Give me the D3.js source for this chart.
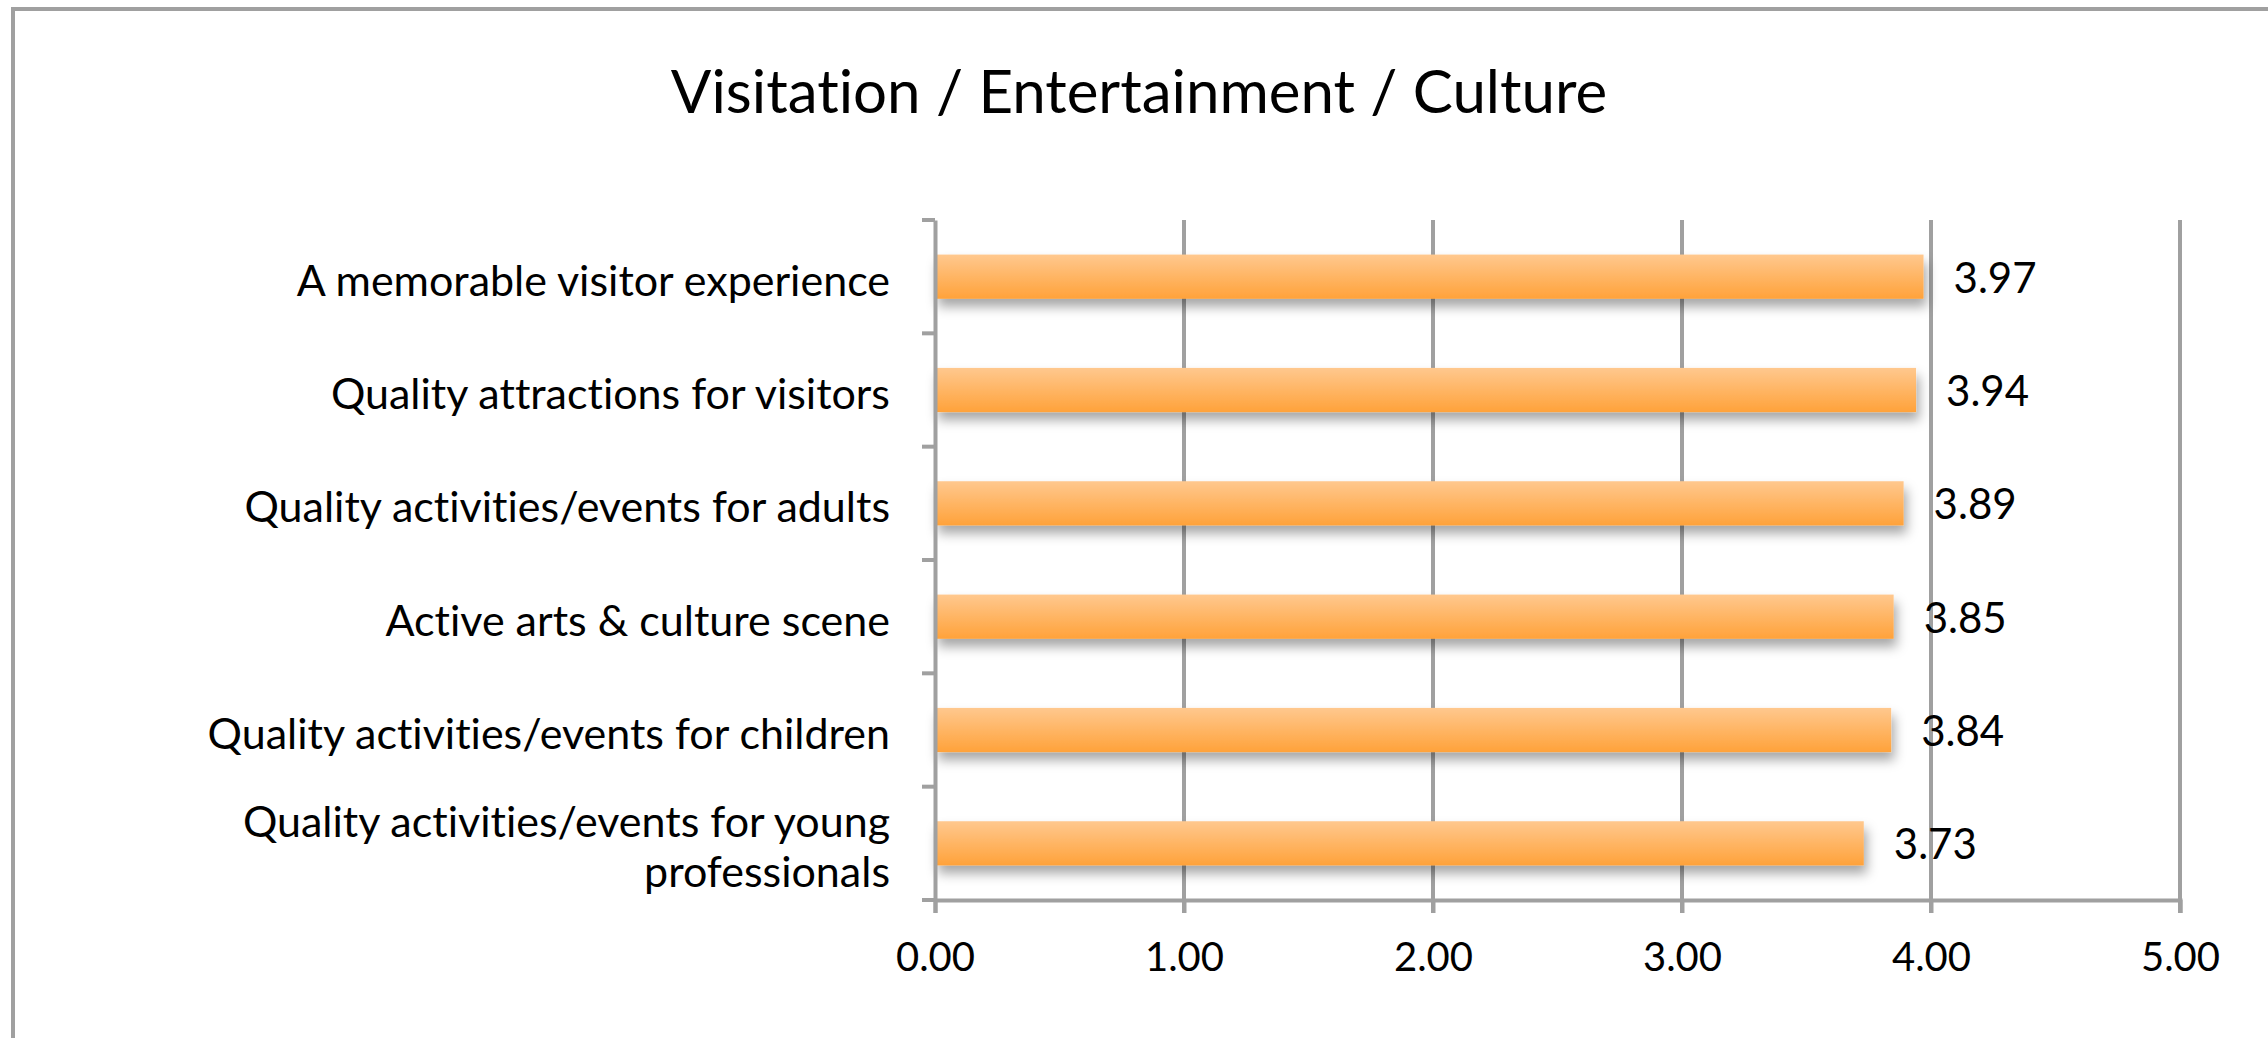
<!DOCTYPE html>
<html>
<head>
<meta charset="utf-8">
<script src="https://cdn.jsdelivr.net/npm/d3@7"></script>
<style>
  html, body { margin: 0; padding: 0; background: #fff; }
  svg { display: block; }
  text { font-family: Lato, "Open Sans", sans-serif; fill: #000; font-variant-ligatures: none; font-feature-settings: "liga" 0, "clig" 0; }
</style>
</head>
<body>
<svg id="chart" width="2268" height="1038"></svg>
<script>
const title = "Visitation / Entertainment / Culture";
const categories = [
  "A memorable visitor experience",
  "Quality attractions for visitors",
  "Quality activities/events for adults",
  "Active arts & culture scene",
  "Quality activities/events for children",
  "Quality activities/events for young professionals"
];
const values = [3.97, 3.94, 3.89, 3.85, 3.84, 3.73];
const xTicks = [0, 1, 2, 3, 4, 5];

const W = 2268, H = 1038;
const margin = { left: 935, right: 88, top: 220, bottom: 138 };
const svg = d3.select("#chart");

// outer frame (left and top edges visible)
svg.append("line").attr("x1", 13).attr("x2", 13).attr("y1", 9).attr("y2", H)
  .attr("stroke", "#a0a0a0").attr("stroke-width", 4);
svg.append("line").attr("x1", 11).attr("x2", W).attr("y1", 9).attr("y2", 9)
  .attr("stroke", "#a0a0a0").attr("stroke-width", 4);

const defs = svg.append("defs");
const grad = defs.append("linearGradient").attr("id", "barGrad")
  .attr("x1", 0).attr("x2", 0).attr("y1", 0).attr("y2", 1);
grad.append("stop").attr("offset", "0%").attr("stop-color", "#ffc88e");
grad.append("stop").attr("offset", "100%").attr("stop-color", "#ffa23a");
const filt = defs.append("filter").attr("id", "shadow")
  .attr("x", "-5%").attr("y", "-30%").attr("width", "110%").attr("height", "180%");
filt.append("feDropShadow").attr("dx", 3).attr("dy", 8).attr("stdDeviation", 6)
  .attr("flood-color", "#000").attr("flood-opacity", 0.35);

const x = d3.scaleLinear().domain([0, 5]).range([margin.left, W - margin.right]);
const y = d3.scaleBand().domain(categories).range([margin.top, H - margin.bottom])
  .paddingInner(0.61).paddingOuter(0.305);
const yb = d3.scaleBand().domain(categories).range([margin.top, H - margin.bottom]);

// title
svg.append("text").attr("x", (465 + 1110) / 2 * (2268 / 1568)).attr("y", 113)
  .attr("text-anchor", "middle").attr("font-size", 60).text(title);

// vertical gridlines
svg.append("g").selectAll("line").data(xTicks.slice(1)).join("line")
  .attr("x1", d => x(d)).attr("x2", d => x(d))
  .attr("y1", margin.top).attr("y2", H - margin.bottom + 13)
  .attr("stroke", "#a0a0a0").attr("stroke-width", 4);

// bars
svg.append("g").selectAll("rect").data(values).join("rect")
  .attr("x", x(0)).attr("y", (d, i) => y(categories[i]))
  .attr("width", d => x(d) - x(0)).attr("height", y.bandwidth())
  .attr("fill", "url(#barGrad)").attr("filter", "url(#shadow)");

// x axis
const xAxis = svg.append("g").attr("transform", `translate(0,${H - margin.bottom})`)
  .call(d3.axisBottom(x).tickValues(xTicks).tickFormat(d3.format(".2f")).tickSize(13).tickPadding(30));
xAxis.select(".domain").attr("stroke", "#a0a0a0").attr("stroke-width", 4);
xAxis.selectAll(".tick line").attr("stroke", "#a0a0a0").attr("stroke-width", 4);
xAxis.selectAll(".tick text").attr("font-size", 40).attr("font-family", "Lato").attr("fill", "#000");

// y axis
const yAxis = svg.append("g").attr("transform", `translate(${margin.left},0)`)
  .call(d3.axisLeft(yb).tickSize(0).tickFormat(""));
yAxis.select(".domain").attr("stroke", "#a0a0a0").attr("stroke-width", 4);
// band boundary ticks
const bounds = categories.map(c => yb(c)).concat([H - margin.bottom]);
svg.append("g").selectAll("line").data(bounds).join("line")
  .attr("x1", margin.left - 13).attr("x2", margin.left)
  .attr("y1", d => d).attr("y2", d => d)
  .attr("stroke", "#a0a0a0").attr("stroke-width", 4);

// category labels (wrap long one)
const labelG = svg.append("g");
categories.forEach((c, i) => {
  const cy = yb(c) + yb.bandwidth() / 2;
  let lines = [c];
  if (c === "Quality activities/events for young professionals") {
    lines = ["Quality activities/events for young", "professionals"];
  }
  const lh = 50;
  const t = labelG.append("text").attr("text-anchor", "end").attr("font-size", 43);
  lines.forEach((ln, k) => {
    t.append("tspan").attr("x", margin.left - 45)
      .attr("y", cy + 4 + (k - (lines.length - 1) / 2) * lh)
      .attr("dy", "0.35em").text(ln);
  });
});

// value labels
svg.append("g").selectAll("text").data(values).join("text")
  .attr("x", d => x(d) + 30)
  .attr("y", (d, i) => yb(categories[i]) + yb.bandwidth() / 2)
  .attr("dy", "0.38em").attr("font-size", 42)
  .text(d => d.toFixed(2));
</script>
</body>
</html>
